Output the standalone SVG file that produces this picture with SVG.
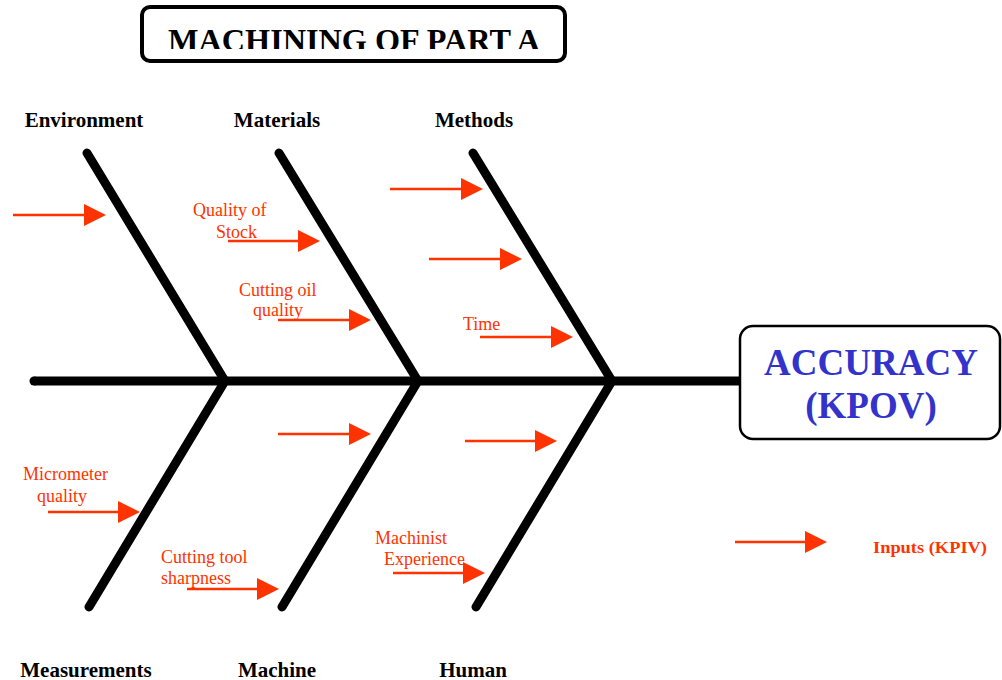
<svg xmlns="http://www.w3.org/2000/svg" width="1002" height="680" viewBox="0 0 1002 680">
<defs>
<style>
.bone{stroke:#000;stroke-width:9;stroke-linecap:round;fill:none}
.arr{stroke:#ff3300;stroke-width:2.5;fill:none}
.head{fill:#ff3300}
.cat{font-family:"Liberation Serif","Times New Roman",serif;font-weight:bold;font-size:21px;fill:#000;text-anchor:middle}
.lbl{font-family:"Liberation Serif","Times New Roman",serif;font-size:18px;fill:#ff3300}
.ttl{font-family:"Liberation Serif","Times New Roman",serif;font-weight:bold;font-size:32px;fill:#000;text-anchor:middle}
.eff{font-family:"Liberation Serif","Times New Roman",serif;font-weight:bold;font-size:37px;fill:#3333cc;text-anchor:middle}
</style>
<clipPath id="tclip"><rect x="142" y="7" width="423" height="42"/></clipPath>
</defs>
<rect width="1002" height="680" fill="#fff"/>
<g id="title">
<rect x="142" y="7" width="423" height="54" rx="8" fill="#fff" stroke="#000" stroke-width="4"/>
<text class="ttl" x="354" y="51" clip-path="url(#tclip)" textLength="372" lengthAdjust="spacingAndGlyphs">MACHINING OF PART A</text>
</g>
<g id="connectors">
<line class="bone" x1="34" y1="381" x2="740" y2="381" style="stroke-linecap:butt"/>
<circle cx="34" cy="381" r="4.5" fill="#000"/>
<line class="bone" x1="87" y1="153" x2="225" y2="381"/>
<line class="bone" x1="279" y1="153" x2="418" y2="381"/>
<line class="bone" x1="473" y1="153" x2="612" y2="381"/>
<line class="bone" x1="225" y1="381" x2="89" y2="607"/>
<line class="bone" x1="418" y1="381" x2="282" y2="607"/>
<line class="bone" x1="612" y1="381" x2="476" y2="607"/>
</g>
<g id="effect">
<rect x="740" y="326" width="260" height="113" rx="13" fill="#fff" stroke="#000" stroke-width="2.5"/>
<text class="eff" x="871" y="375">ACCURACY</text>
<text class="eff" x="871" y="418">(KPOV)</text>
</g>
<g id="cat-environment"><text class="cat" x="84" y="127">Environment</text></g>
<g id="cat-materials"><text class="cat" x="277" y="127">Materials</text></g>
<g id="cat-methods"><text class="cat" x="474" y="127">Methods</text></g>
<g id="cat-measurements"><text class="cat" x="86" y="677">Measurements</text></g>
<g id="cat-machine"><text class="cat" x="277" y="677">Machine</text></g>
<g id="cat-human"><text class="cat" x="473" y="677">Human</text></g>
<g id="causes">
<line class="arr" x1="13" y1="215" x2="86" y2="215"/><polygon class="head" points="84,204 106,215 84,226"/>
<text class="lbl" x="193" y="216">Quality of</text>
<text class="lbl" x="216" y="238">Stock</text>
<line class="arr" x1="228" y1="241" x2="300" y2="241"/><polygon class="head" points="298,230 320,241 298,252"/>
<text class="lbl" x="239" y="296">Cutting oil</text>
<text class="lbl" x="253" y="316">quality</text>
<line class="arr" x1="278" y1="320" x2="351" y2="320"/><polygon class="head" points="349,309 371,320 349,331"/>
<line class="arr" x1="390" y1="189" x2="463" y2="189"/><polygon class="head" points="461,178 483,189 461,200"/>
<line class="arr" x1="429" y1="259" x2="502" y2="259"/><polygon class="head" points="500,248 522,259 500,270"/>
<text class="lbl" x="463" y="330">Time</text>
<line class="arr" x1="480" y1="337" x2="553" y2="337"/><polygon class="head" points="551,326 573,337 551,348"/>
<line class="arr" x1="278" y1="434" x2="351" y2="434"/><polygon class="head" points="349,423 371,434 349,445"/>
<line class="arr" x1="465" y1="441" x2="537" y2="441"/><polygon class="head" points="535,430 557,441 535,452"/>
<text class="lbl" x="23" y="480">Micrometer</text>
<text class="lbl" x="37" y="502">quality</text>
<line class="arr" x1="48" y1="512" x2="120" y2="512"/><polygon class="head" points="118,501 140,512 118,523"/>
<text class="lbl" x="161" y="563">Cutting tool</text>
<text class="lbl" x="161" y="584">sharpness</text>
<line class="arr" x1="187" y1="589" x2="259" y2="589"/><polygon class="head" points="257,578 279,589 257,600"/>
<text class="lbl" x="375" y="544">Machinist</text>
<text class="lbl" x="384" y="565">Experience</text>
<line class="arr" x1="393" y1="573" x2="465" y2="573"/><polygon class="head" points="463,562 485,573 463,584"/>
</g>
<g id="legend">
<line class="arr" x1="735" y1="542" x2="807" y2="542"/><polygon class="head" points="805,531 827,542 805,553"/>
<text x="873" y="553" font-family="'Liberation Serif',serif" font-weight="bold" font-size="17" fill="#ff3300" textLength="114" lengthAdjust="spacingAndGlyphs">Inputs (KPIV)</text>
</g>
</svg>
